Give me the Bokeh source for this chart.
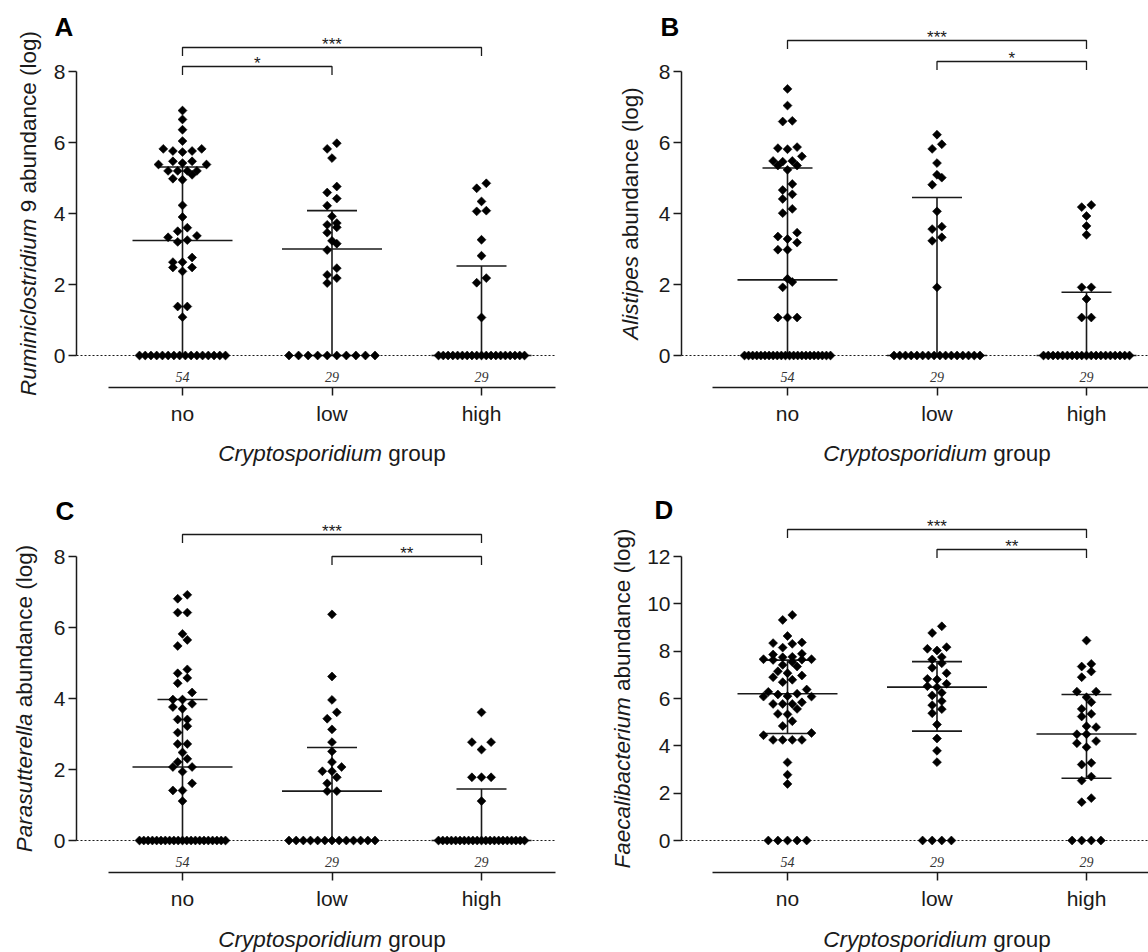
import math
from bokeh.plotting import figure
from bokeh.models import Range1d, LinearAxis, FixedTicker, ColumnDataSource
from bokeh.layouts import column, row
from bokeh.embed import file_html
from bokeh.resources import INLINE
from bokeh.core.properties import value

# ---------------- data ----------------
groups = ["no", "low", "high"]
n_labels = ["54", "29", "29"]
x_title_italic = "Cryptosporidium"
x_title_rest = "group"

# Panel A - Ruminiclostridium 9
A_no = [0.0] * 16 + [6.90, 6.65, 6.36, 6.04, 5.82, 5.76, 5.73, 5.76, 5.82, 5.47, 5.38, 5.42, 5.38, 5.47,
                     5.20, 5.20, 5.20, 5.20, 5.09, 4.98, 4.95, 4.23, 3.90, 3.60, 3.50, 3.37, 3.33, 3.25,
                     3.20, 2.76, 2.63, 2.63, 2.48, 2.48, 2.37, 1.38, 1.38, 1.08]
A_low = [0.0] * 10 + [5.98, 5.82, 5.56, 4.76, 4.59, 4.42, 4.22, 3.92, 3.73, 3.68, 3.61, 3.46, 3.23, 3.15,
                      2.97, 2.46, 2.27, 2.18, 2.04]
A_high = [0.0] * 19 + [4.85, 4.71, 4.34, 4.08, 4.06, 3.26, 2.81, 2.18, 2.05, 1.07]
A_median = [3.24, 3.00, 0.0]
A_q1 = [0.0, 0.0, 0.0]
A_q3 = [5.31, 4.08, 2.52]
A_sig = [(0, 2, "***"), (0, 1, "*")]

# Panel B - Alistipes
B_no = [0.0] * 22 + [7.51, 7.04, 6.61, 6.59, 5.87, 5.84, 5.81, 5.61, 5.48, 5.48, 5.46, 5.35, 5.35, 5.23,
                     4.83, 4.66, 4.54, 4.41, 4.13, 4.01, 3.46, 3.35, 3.28, 3.18, 2.98, 2.98, 2.16, 2.07,
                     1.92, 1.07, 1.07, 1.07]
B_low = [0.0] * 16 + [6.22, 5.95, 5.82, 5.42, 5.09, 5.01, 4.81, 4.06, 3.63, 3.56, 3.33, 3.23, 1.92]
B_high = [0.0] * 19 + [4.24, 4.18, 3.93, 3.65, 3.40, 1.92, 1.92, 1.59, 1.07, 1.07]
B_median = [2.13, 0.0, 0.0]
B_q1 = [0.0, 0.0, 0.0]
B_q3 = [5.28, 4.45, 1.78]
B_sig = [(0, 2, "***"), (1, 2, "*")]

# Panel C - Parasutterella
C_no = [0.0] * 21 + [6.92, 6.81, 6.42, 6.42, 5.82, 5.65, 5.48, 4.82, 4.71, 4.58, 4.43, 4.17, 3.97, 3.97,
                     3.85, 3.76, 3.71, 3.41, 3.41, 3.22, 3.04, 2.72, 2.72, 2.48, 2.30, 2.21, 2.07, 2.07,
                     1.94, 1.61, 1.41, 1.41, 1.11]
C_low = [0.0] * 13 + [6.37, 4.62, 3.96, 3.61, 3.43, 3.13, 2.77, 2.51, 2.21, 2.07, 1.95, 1.95, 1.78, 1.61,
                      1.39, 1.39]
C_high = [0.0] * 21 + [3.61, 2.77, 2.77, 2.56, 1.78, 1.78, 1.78, 1.11]
C_median = [2.07, 1.39, 0.0]
C_q1 = [0.0, 0.0, 0.0]
C_q3 = [3.97, 2.62, 1.45]
C_sig = [(0, 2, "***"), (1, 2, "**")]

# Panel D - Faecalibacterium
D_no = [0.0] * 5 + [9.53, 9.32, 8.64, 8.37, 8.34, 8.31, 8.15, 7.89, 7.86, 7.76, 7.74, 7.66, 7.66, 7.64,
                    7.63, 7.54, 7.42, 7.35, 7.15, 7.07, 6.97, 6.90, 6.79, 6.69, 6.38, 6.28, 6.20, 6.17,
                    6.10, 6.08, 6.08, 5.84, 5.77, 5.77, 5.77, 5.56, 5.35, 5.33, 5.04, 4.84, 4.54, 4.45,
                    4.25, 4.25, 4.25, 4.25, 3.30, 2.78, 2.39]
D_low = [0.0] * 4 + [9.05, 8.77, 8.17, 8.10, 8.03, 7.75, 7.65, 7.49, 7.30, 7.07, 6.83, 6.80, 6.62, 6.52,
                     6.48, 6.24, 6.13, 5.89, 5.72, 5.55, 5.38, 4.90, 4.31, 3.79, 3.31]
D_high = [0.0] * 4 + [8.45, 7.46, 7.35, 7.14, 6.90, 6.29, 6.29, 6.05, 5.84, 5.56, 5.35, 5.24, 4.83, 4.79,
                      4.49, 4.49, 4.20, 4.11, 3.94, 3.28, 3.21, 2.70, 2.53, 1.79, 1.62]
D_median = [6.20, 6.48, 4.50]
D_q1 = [4.52, 4.62, 2.63]
D_q3 = [7.62, 7.56, 6.17]
D_sig = [(0, 2, "***"), (1, 2, "**")]

# ---------------- layout / style ----------------
SANS = "Liberation Sans"
SERIF = "Liberation Serif"
INK = "#1a1a1a"
SP = 149.5  # px between categories

GEOM = {
    "A": dict(W=574, H=476, axis_x=76, cat0=182, y0=355, ppu=35.5, ymax=8, yticks=[0, 2, 4, 6, 8],
              xaxis_y=387, xaxis_l=108, xaxis_r=555, n_y=376, title_y=453, ylab_x=28,
              letter="A", letter_xy=(54, 26), br_y=[47, 66]),
    "B": dict(W=574, H=476, axis_x=107, cat0=213, y0=355, ppu=35.5, ymax=8, yticks=[0, 2, 4, 6, 8],
              xaxis_y=387, xaxis_l=138, xaxis_r=590, n_y=376, title_y=453, ylab_x=56,
              letter="B", letter_xy=(86, 26), br_y=[40, 61]),
    "C": dict(W=574, H=476, axis_x=76, cat0=182, y0=364, ppu=35.5, ymax=8, yticks=[0, 2, 4, 6, 8],
              xaxis_y=396, xaxis_l=108, xaxis_r=555, n_y=385, title_y=463, ylab_x=24,
              letter="C", letter_xy=(55, 34), br_y=[58, 80]),
    "D": dict(W=574, H=476, axis_x=107, cat0=213, y0=364, ppu=284 / 12, ymax=12,
              yticks=[0, 2, 4, 6, 8, 10, 12],
              xaxis_y=396, xaxis_l=138, xaxis_r=590, n_y=385, title_y=463, ylab_x=48,
              letter="D", letter_xy=(80, 33), br_y=[53, 73]),
}

# Arial / Liberation Sans advance widths (per 1000 em) for label layout
CW = {' ': 278, '(': 333, ')': 333, '9': 556, 'A': 667, 'C': 722, 'F': 611, 'P': 667, 'R': 722,
      'a': 556, 'b': 556, 'c': 500, 'd': 556, 'e': 556, 'f': 278, 'g': 556, 'i': 222, 'l': 222,
      'm': 833, 'n': 556, 'o': 556, 'p': 556, 'r': 333, 's': 500, 't': 278, 'u': 556, 'y': 500}


def text_w(s, fs):
    return sum(CW.get(c, 556) for c in s) * fs / 1000.0


def swarm(vals, ppu, step=9.6, maxspan=86.0, binpx=7.5):
    vs = sorted(vals)
    rows = []
    for v in vs:
        if rows and (v - rows[-1][0]) * ppu < binpx:
            rows[-1].append(v)
        else:
            rows.append([v])
    out = []
    for r in rows:
        k = len(r)
        s = step if (k - 1) * step <= maxspan else maxspan / (k - 1)
        slots = sorted([(i - (k - 1) / 2.0) for i in range(k)], key=lambda t: (abs(t), t))
        for v, t in zip(r, slots):
            out.append((t * s, v))
    return out


LABEL_FS = 22.5


def style_axis(ax, standoff):
    ax.axis_line_color = INK
    ax.axis_line_width = 1.5
    ax.major_tick_line_color = INK
    ax.major_tick_line_width = 1.5
    ax.major_tick_out = 8
    ax.major_tick_in = 0
    ax.minor_tick_out = 0
    ax.minor_tick_in = 0
    ax.major_label_standoff = standoff
    ax.major_label_text_font = SANS
    ax.major_label_text_font_size = "21px"
    ax.major_label_text_color = INK


def make_panel(key, series, med, q1, q3, sig, ylab_it, ylab_rest):
    g = GEOM[key]
    W, H = g["W"], g["H"]
    ppu = g["ppu"]

    def xv(px):
        return (px - g["cat0"]) / SP

    def yv(py):
        return (g["y0"] - py) / ppu

    p = figure(width=W, height=H, x_range=Range1d(xv(0), xv(W)), y_range=Range1d(yv(H), yv(0)),
               output_backend="svg", toolbar_location=None, x_axis_location=None, y_axis_location=None,
               min_border=0, outline_line_color=None, background_fill_color="white",
               border_fill_color="white")
    p.grid.visible = False
    p.title.visible = False

    # y axis
    yax = LinearAxis(fixed_location=xv(g["axis_x"]), bounds=(0, g["ymax"]),
                     ticker=FixedTicker(ticks=g["yticks"], minor_ticks=[]))
    style_axis(yax, 3)
    p.add_layout(yax, "left")

    # x axis
    xax = LinearAxis(fixed_location=yv(g["xaxis_y"]), bounds=(xv(g["xaxis_l"]), xv(g["xaxis_r"])),
                     ticker=FixedTicker(ticks=[0, 1, 2], minor_ticks=[]),
                     major_label_overrides={i: groups[i] for i in range(3)})
    style_axis(xax, 6)
    p.add_layout(xax, "below")

    # dotted zero line
    p.segment(x0=[xv(g["axis_x"])], y0=[0], x1=[xv(g["xaxis_r"])], y1=[0],
              line_color=INK, line_width=1.2, line_dash="2 2")

    # median / IQR
    hm = 50 / SP
    hq = 25 / SP
    idx = [0, 1, 2]
    p.segment(x0=idx, y0=q1, x1=idx, y1=q3, line_color=INK, line_width=1.6)
    p.segment(x0=[i - hq for i in idx], y0=q3, x1=[i + hq for i in idx], y1=q3, line_color=INK, line_width=1.6)
    p.segment(x0=[i - hq for i in idx], y0=q1, x1=[i + hq for i in idx], y1=q1, line_color=INK, line_width=1.6)
    p.segment(x0=[i - hm for i in idx], y0=med, x1=[i + hm for i in idx], y1=med, line_color=INK, line_width=1.6)

    # points
    xs, ys = [], []
    for i, vals in enumerate(series):
        for off, v in swarm(vals, ppu):
            xs.append(i + off / SP)
            ys.append(v)
    src = ColumnDataSource(data=dict(x=xs, y=ys))
    p.scatter("x", "y", source=src, marker="square", angle=math.pi / 4, size=6.3,
              fill_color="black", line_color="black", line_width=0.6)

    # n counts
    p.text(x=idx, y=[yv(g["n_y"])] * 3, text=n_labels, text_font=value(SERIF), text_font_style="italic",
           text_font_size=value("14px"), text_color="#333333", text_align="center", text_baseline="middle")

    # significance brackets
    for (a, b, lab), by in zip(sig, g["br_y"]):
        p.line(x=[a, a, b, b], y=[yv(by + 8.5), yv(by), yv(by), yv(by + 8.5)], line_color=INK, line_width=1.3)
        p.text(x=[(a + b) / 2], y=[yv(by - 3.5)], text=[lab], text_font=value(SANS),
               text_font_size=value("17px"), text_color=INK, text_align="center", text_baseline="alphabetic")

    # panel letter
    lx, ly = g["letter_xy"]
    p.text(x=[xv(lx)], y=[yv(ly)], text=[g["letter"]], text_font=value(SANS), text_font_style="bold",
           text_font_size=value("26px"), text_color="black", text_align="left", text_baseline="middle")

    # y axis label (italic genus + regular rest), rotated
    fs = LABEL_FS
    w_it = text_w(ylab_it + " ", fs)
    L = w_it + text_w(ylab_rest, fs)
    yc = (g["y0"] + (g["y0"] - g["ymax"] * ppu)) / 2.0
    start = yc + L / 2.0
    p.text(x=[xv(g["ylab_x"])], y=[yv(start)], text=[ylab_it], angle=math.pi / 2, text_font=value(SANS),
           text_font_style="italic", text_font_size=value(f"{fs}px"), text_color=INK,
           text_align="left", text_baseline="middle")
    p.text(x=[xv(g["ylab_x"])], y=[yv(start - w_it)], text=[ylab_rest], angle=math.pi / 2,
           text_font=value(SANS), text_font_size=value(f"{fs}px"), text_color=INK,
           text_align="left", text_baseline="middle")

    # x axis title
    w_it2 = text_w(x_title_italic + " ", fs)
    L2 = w_it2 + text_w(x_title_rest, fs)
    cx = g["cat0"] + SP
    left = cx - L2 / 2.0
    p.text(x=[xv(left)], y=[yv(g["title_y"])], text=[x_title_italic], text_font=value(SANS),
           text_font_style="italic", text_font_size=value(f"{fs}px"), text_color=INK,
           text_align="left", text_baseline="middle")
    p.text(x=[xv(left + w_it2)], y=[yv(g["title_y"])], text=[x_title_rest], text_font=value(SANS),
           text_font_size=value(f"{fs}px"), text_color=INK, text_align="left", text_baseline="middle")
    return p


pA = make_panel("A", [A_no, A_low, A_high], A_median, A_q1, A_q3, A_sig, "Ruminiclostridium", "9 abundance (log)")
pB = make_panel("B", [B_no, B_low, B_high], B_median, B_q1, B_q3, B_sig, "Alistipes", "abundance (log)")
pC = make_panel("C", [C_no, C_low, C_high], C_median, C_q1, C_q3, C_sig, "Parasutterella", "abundance (log)")
pD = make_panel("D", [D_no, D_low, D_high], D_median, D_q1, D_q3, D_sig, "Faecalibacterium", "abundance (log)")

layout = column(row(pA, pB), row(pC, pD))
open("out.html", "w").write(file_html(layout, INLINE, "Cryptosporidium groups"))
